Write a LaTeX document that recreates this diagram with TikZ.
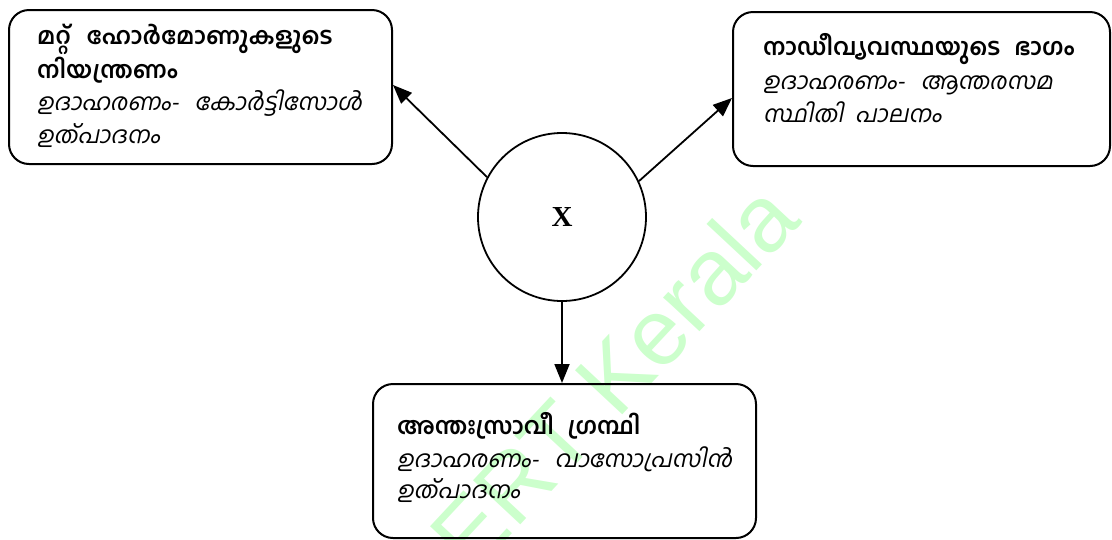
\documentclass[tikz,border=0pt]{standalone}
\usepackage{fontspec}
\usetikzlibrary{arrows.meta,calc}
\newfontfamily\malfont[Script=Malayalam]{Hind Kochi}
\newfontfamily\malit[Script=Malayalam,FakeSlant=0.2]{Hind Kochi}
\newfontfamily\wmfont{Liberation Sans}
\newfontfamily\xfont{Liberation Serif}
\definecolor{wmgreen}{RGB}{204,255,204}
\newcommand{\gap}{\hspace{16pt}}
\begin{document}
\begin{tikzpicture}[x=1pt,y=-1pt,
  box/.style={draw, line width=2pt, rounded corners=20pt, anchor=north west, inner sep=0pt},
  hd/.style={anchor=base west, inner sep=0pt, font=\malfont\bfseries\fontsize{23.5}{26}\selectfont},
  ex/.style={anchor=base west, inner sep=0pt, font=\malit\fontsize{23.5}{26}\selectfont},
  arr/.style={line width=1.8pt, -{Triangle[length=19pt,width=15pt]}}]
\useasboundingbox (0,0) rectangle (1112,539);
% watermark
\node[rotate=47, anchor=base east, text=wmgreen, font=\wmfont\fontsize{94}{94}\selectfont, inner sep=0pt] (wm) at (803,222) {ERT Kerala};
% boxes
\node[box, minimum width=383pt, minimum height=154pt] (b1) at (8,9) {};
\node[box, minimum width=377pt, minimum height=154pt] (b2) at (732,11) {};
\node[box, minimum width=383pt, minimum height=154pt] (b3) at (372,383) {};
% circle
\node[draw, circle, line width=1.8pt, minimum size=168pt, inner sep=0pt,
  font=\xfont\bfseries\fontsize{29}{30}\selectfont] (c) at (562,217) {X};
% texts box 1
\node[hd] (t1a) at (37,44) {മറ്റ്\gap ഹോർമോണുകളുടെ};
\node[hd] (t1b) at (37,78) {നിയന്ത്രണം};
\node[ex] (t1c) at (37,110) {ഉദാഹരണം-\gap കോർട്ടിസോൾ};
\node[ex] (t1d) at (37,143) {ഉത്പാദനം};
% texts box 2
\node[hd] (t2a) at (763,55) {നാഡീവ്യവസ്ഥയുടെ\hspace{8pt} ഭാഗം};
\node[ex] (t2b) at (763,89) {ഉദാഹരണം-\gap ആന്തരസമ};
\node[ex] (t2c) at (763,122) {സ്ഥിതി\hspace{6pt} പാലനം};
% texts box 3
\node[hd] (t3a) at (397,434) {അന്തഃസ്രാവീ\hspace{8pt} ഗ്രന്ഥി};
\node[ex] (t3b) at (397,467) {ഉദാഹരണം-\gap വാസോപ്രസിൻ};
\node[ex] (t3c) at (397,498) {ഉത്പാദനം};
% arrows
\draw[arr] (c.152) -- ($(b1.east)+(0,-2)$);
\draw[arr] (c.25) -- ($(b2.west)+(0,9)$);
\draw[arr] (c.south) -- (c.south |- b3.north);
\end{tikzpicture}
\end{document}
